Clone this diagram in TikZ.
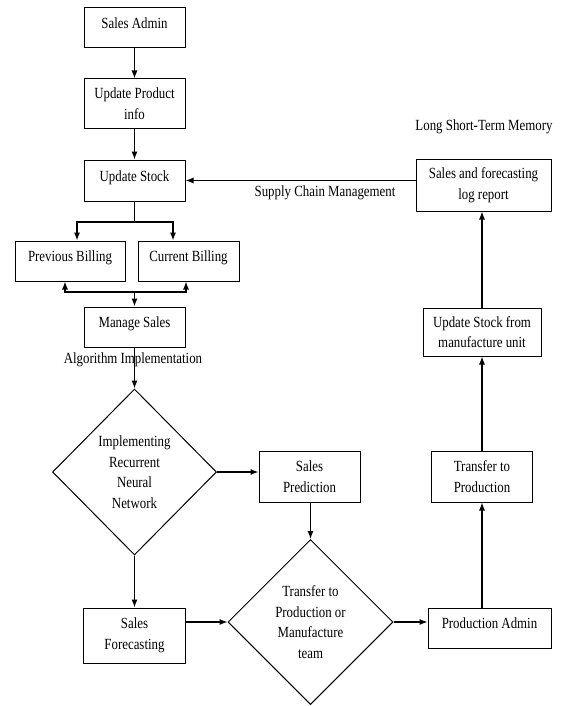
\documentclass[tikz,border=0pt]{standalone}
\usepackage{fontspec}
\setmainfont[FakeStretch=0.83]{Liberation Serif}
\usetikzlibrary{shapes.geometric,arrows.meta}
\begin{document}
\begin{tikzpicture}[x=1pt,y=-1pt,
  font=\fontsize{15.5}{20.5}\selectfont,
  box/.style={draw,line width=1pt,rectangle,inner sep=0pt,align=center},
  one/.style={text height=11pt,text depth=10pt},
  dia/.style={draw,line width=1pt,diamond,inner sep=0pt,align=center},
  lbl/.style={inner sep=0pt,align=center},
  arr/.style={line width=1.1pt,-{Latex[length=8pt,width=6pt]}},
  ln/.style={line width=1.1pt}]
\useasboundingbox (0,0) rectangle (562,706);
\node[box,one,minimum width=101pt,minimum height=40pt] (sa) at (134.5,28) {Sales Admin};
\node[box,minimum width=101pt,minimum height=49pt] (upi) at (134.5,103.5) {Update Product\\info};
\node[box,one,minimum width=101pt,minimum height=41pt] (us) at (134.5,180.5) {Update Stock};
\node[box,one,minimum width=110pt,minimum height=40pt] (pb) at (70,261) {Previous Billing};
\node[box,one,minimum width=101pt,minimum height=40pt] (cb) at (188.5,261) {Current Billing};
\node[box,one,minimum width=101pt,minimum height=40pt] (ms) at (134.5,327) {Manage Sales};
\node[dia,minimum width=164pt,minimum height=166pt] (d1) at (134.5,472) {Implementing\\Recurrent\\Neural\\Network};
\node[box,minimum width=101pt,minimum height=51pt] (sp) at (309.5,476.5) {Sales\\Prediction};
\node[box,minimum width=102pt,minimum height=55pt] (sf) at (134.5,635.5) {Sales\\Forecasting};
\node[dia,minimum width=165pt,minimum height=165pt] (d2) at (310.5,622) {Transfer to\\Production or\\Manufacture\\team};
\node[box,one,minimum width=123pt,minimum height=40pt] (pa) at (489.5,628) {Production Admin};
\node[box,minimum width=101pt,minimum height=51pt] (tp) at (482,476.5) {Transfer to\\Production};
\node[box,minimum width=118pt,minimum height=48pt] (usm) at (482,332) {Update Stock from\\manufacture unit};
\node[box,minimum width=135pt,minimum height=52pt] (log) at (483.5,185) {Sales and forecasting\\log report};
\node[lbl] (lstm) at (484,127) {Long Short-Term Memory};
\node[lbl] (scm) at (325,193) {Supply Chain Management};
\node[lbl] (alg) at (133,360) {Algorithm Implementation};
\coordinate (j1) at (134.5,222);
\coordinate (j2) at (134.5,292);
\draw[arr] (sa) -- (upi);
\draw[arr] (upi) -- (us);
\draw[ln] (us.south) -- (j1);
\draw[arr] (j1) -| ([xshift=7pt]pb.north);
\draw[arr] (j1) -| ([xshift=-15.5pt]cb.north);
\draw[arr] (j2) -| ([xshift=-5pt]pb.south);
\draw[arr] (j2) -| ([xshift=-2.5pt]cb.south);
\draw[arr] (j2) -- (ms.north);
\draw[arr] (ms.south) -- (d1.north);
\draw[arr] (d1.east) -- (d1.east -| sp.west);
\draw[arr] (d1.south) -- (sf.north);
\draw[arr] (sp.south -| d2.north) -- (d2.north);
\draw[arr] (sf.east |- d2.west) -- (d2.west);
\draw[arr] (d2.east) -- (d2.east -| pa.west);
\draw[arr] (pa.north -| tp.south) -- (tp.south);
\draw[arr] (tp.north) -- (usm.south);
\draw[arr] (usm.north) -- (log.south -| usm.north);
\draw[arr] (log.west |- us.east) -- (us.east);
\end{tikzpicture}
\end{document}
